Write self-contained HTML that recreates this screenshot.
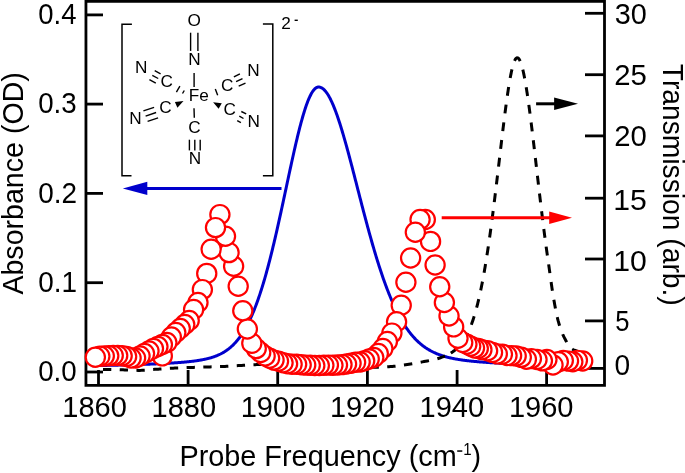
<!DOCTYPE html>
<html><head><meta charset="utf-8"><style>
html,body{margin:0;padding:0;background:#fff;}
svg{display:block;will-change:transform;}
text{font-family:"Liberation Sans",sans-serif;}
</style></head><body>
<svg width="685" height="473" viewBox="0 0 685 473">
<rect width="685" height="473" fill="#fff"/>
<g stroke="#000" stroke-width="2.8" fill="none">
<path d="M85.95,385.3 L85.95,1.45 L604.5,1.45 L604.5,385.3 Z"/>
<line x1="86.0" y1="372.0" x2="103" y2="372.0"/>
<line x1="86.0" y1="282.7" x2="103" y2="282.7"/>
<line x1="86.0" y1="193.4" x2="103" y2="193.4"/>
<line x1="86.0" y1="104.1" x2="103" y2="104.1"/>
<line x1="86.0" y1="14.9" x2="103" y2="14.9"/>
<line x1="585" y1="368.4" x2="604.5" y2="368.4"/>
<line x1="585" y1="320.9" x2="604.5" y2="320.9"/>
<line x1="585" y1="259.0" x2="604.5" y2="259.0"/>
<line x1="585" y1="198.2" x2="604.5" y2="198.2"/>
<line x1="585" y1="135.9" x2="604.5" y2="135.9"/>
<line x1="585" y1="74.7" x2="604.5" y2="74.7"/>
<line x1="585" y1="13.3" x2="604.5" y2="13.3"/>
<line x1="98.5" y1="385.3" x2="98.5" y2="370"/>
<line x1="188.1" y1="385.3" x2="188.1" y2="370"/>
<line x1="277.7" y1="385.3" x2="277.7" y2="370"/>
<line x1="367.4" y1="385.3" x2="367.4" y2="370"/>
<line x1="457.1" y1="385.3" x2="457.1" y2="370"/>
<line x1="546.6" y1="385.3" x2="546.6" y2="370"/>
</g>
<path d="M92.00,365.66 L92.50,365.65 L93.00,365.64 L93.50,365.64 L94.00,365.63 L94.50,365.62 L95.00,365.61 L95.50,365.60 L96.00,365.59 L96.50,365.58 L97.00,365.57 L97.50,365.56 L98.00,365.56 L98.50,365.55 L99.00,365.54 L99.50,365.53 L100.00,365.52 L100.50,365.51 L101.00,365.50 L101.50,365.49 L102.00,365.48 L102.50,365.47 L103.00,365.46 L103.50,365.45 L104.00,365.44 L104.50,365.43 L105.00,365.42 L105.50,365.41 L106.00,365.40 L106.50,365.39 L107.00,365.38 L107.50,365.37 L108.00,365.36 L108.50,365.35 L109.00,365.34 L109.50,365.33 L110.00,365.32 L110.50,365.31 L111.00,365.29 L111.50,365.28 L112.00,365.27 L112.50,365.26 L113.00,365.25 L113.50,365.24 L114.00,365.23 L114.50,365.22 L115.00,365.20 L115.50,365.19 L116.00,365.18 L116.50,365.17 L117.00,365.16 L117.50,365.15 L118.00,365.13 L118.50,365.12 L119.00,365.11 L119.50,365.10 L120.00,365.08 L120.50,365.07 L121.00,365.06 L121.50,365.05 L122.00,365.03 L122.50,365.02 L123.00,365.01 L123.50,364.99 L124.00,364.98 L124.50,364.97 L125.00,364.95 L125.50,364.94 L126.00,364.93 L126.50,364.91 L127.00,364.90 L127.50,364.89 L128.00,364.87 L128.50,364.86 L129.00,364.84 L129.50,364.83 L130.00,364.81 L130.50,364.80 L131.00,364.79 L131.50,364.77 L132.00,364.76 L132.50,364.74 L133.00,364.73 L133.50,364.71 L134.00,364.69 L134.50,364.68 L135.00,364.66 L135.50,364.65 L136.00,364.63 L136.50,364.62 L137.00,364.60 L137.50,364.58 L138.00,364.57 L138.50,364.55 L139.00,364.53 L139.50,364.52 L140.00,364.50 L140.50,364.48 L141.00,364.47 L141.50,364.45 L142.00,364.43 L142.50,364.41 L143.00,364.40 L143.50,364.38 L144.00,364.36 L144.50,364.34 L145.00,364.32 L145.50,364.30 L146.00,364.29 L146.50,364.27 L147.00,364.25 L147.50,364.23 L148.00,364.21 L148.50,364.19 L149.00,364.17 L149.50,364.15 L150.00,364.13 L150.50,364.11 L151.00,364.09 L151.50,364.07 L152.00,364.05 L152.50,364.03 L153.00,364.01 L153.50,363.98 L154.00,363.96 L154.50,363.94 L155.00,363.92 L155.50,363.90 L156.00,363.88 L156.50,363.85 L157.00,363.83 L157.50,363.81 L158.00,363.78 L158.50,363.76 L159.00,363.74 L159.50,363.71 L160.00,363.69 L160.50,363.66 L161.00,363.64 L161.50,363.62 L162.00,363.59 L162.50,363.56 L163.00,363.54 L163.50,363.51 L164.00,363.49 L164.50,363.46 L165.00,363.43 L165.50,363.41 L166.00,363.38 L166.50,363.35 L167.00,363.32 L167.50,363.30 L168.00,363.27 L168.50,363.24 L169.00,363.21 L169.50,363.18 L170.00,363.15 L170.50,363.12 L171.00,363.09 L171.50,363.06 L172.00,363.03 L172.50,363.00 L173.00,362.96 L173.50,362.93 L174.00,362.90 L174.50,362.87 L175.00,362.83 L175.50,362.80 L176.00,362.76 L176.50,362.73 L177.00,362.69 L177.50,362.66 L178.00,362.62 L178.50,362.58 L179.00,362.55 L179.50,362.51 L180.00,362.47 L180.50,362.43 L181.00,362.39 L181.50,362.35 L182.00,362.31 L182.50,362.27 L183.00,362.22 L183.50,362.18 L184.00,362.14 L184.50,362.09 L185.00,362.05 L185.50,362.00 L186.00,361.95 L186.50,361.91 L187.00,361.86 L187.50,361.81 L188.00,361.76 L188.50,361.71 L189.00,361.65 L189.50,361.60 L190.00,361.55 L190.50,361.49 L191.00,361.43 L191.50,361.38 L192.00,361.32 L192.50,361.26 L193.00,361.20 L193.50,361.14 L194.00,361.07 L194.50,361.01 L195.00,360.94 L195.50,360.87 L196.00,360.80 L196.50,360.73 L197.00,360.66 L197.50,360.58 L198.00,360.51 L198.50,360.43 L199.00,360.35 L199.50,360.27 L200.00,360.19 L200.50,360.10 L201.00,360.01 L201.50,359.92 L202.00,359.83 L202.50,359.74 L203.00,359.64 L203.50,359.54 L204.00,359.44 L204.50,359.34 L205.00,359.23 L205.50,359.12 L206.00,359.01 L206.50,358.89 L207.00,358.77 L207.50,358.65 L208.00,358.53 L208.50,358.40 L209.00,358.27 L209.50,358.13 L210.00,357.99 L210.50,357.85 L211.00,357.71 L211.50,357.55 L212.00,357.40 L212.50,357.24 L213.00,357.08 L213.50,356.91 L214.00,356.74 L214.50,356.56 L215.00,356.38 L215.50,356.19 L216.00,356.00 L216.50,355.80 L217.00,355.60 L217.50,355.39 L218.00,355.17 L218.50,354.95 L219.00,354.73 L219.50,354.49 L220.00,354.25 L220.50,354.01 L221.00,353.75 L221.50,353.49 L222.00,353.22 L222.50,352.95 L223.00,352.67 L223.50,352.37 L224.00,352.08 L224.50,351.77 L225.00,351.45 L225.50,351.13 L226.00,350.79 L226.50,350.45 L227.00,350.10 L227.50,349.74 L228.00,349.37 L228.50,348.99 L229.00,348.60 L229.50,348.19 L230.00,347.78 L230.50,347.36 L231.00,346.92 L231.50,346.48 L232.00,346.02 L232.50,345.55 L233.00,345.07 L233.50,344.57 L234.00,344.06 L234.50,343.54 L235.00,343.01 L235.50,342.46 L236.00,341.90 L236.50,341.33 L237.00,340.74 L237.50,340.13 L238.00,339.51 L238.50,338.88 L239.00,338.23 L239.50,337.57 L240.00,336.89 L240.50,336.19 L241.00,335.48 L241.50,334.75 L242.00,334.00 L242.50,333.23 L243.00,332.45 L243.50,331.65 L244.00,330.84 L244.50,330.00 L245.00,329.15 L245.50,328.27 L246.00,327.38 L246.50,326.47 L247.00,325.54 L247.50,324.59 L248.00,323.62 L248.50,322.63 L249.00,321.62 L249.50,320.58 L250.00,319.53 L250.50,318.46 L251.00,317.36 L251.50,316.25 L252.00,315.11 L252.50,313.95 L253.00,312.77 L253.50,311.57 L254.00,310.34 L254.50,309.09 L255.00,307.82 L255.50,306.53 L256.00,305.22 L256.50,303.88 L257.00,302.52 L257.50,301.13 L258.00,299.73 L258.50,298.29 L259.00,296.84 L259.50,295.36 L260.00,293.86 L260.50,292.34 L261.00,290.79 L261.50,289.22 L262.00,287.63 L262.50,286.02 L263.00,284.38 L263.50,282.71 L264.00,281.03 L264.50,279.32 L265.00,277.59 L265.50,275.84 L266.00,274.06 L266.50,272.26 L267.00,270.44 L267.50,268.60 L268.00,266.74 L268.50,264.85 L269.00,262.95 L269.50,261.02 L270.00,259.07 L270.50,257.10 L271.00,255.12 L271.50,253.11 L272.00,251.08 L272.50,249.04 L273.00,246.97 L273.50,244.89 L274.00,242.79 L274.50,240.67 L275.00,238.54 L275.50,236.39 L276.00,234.22 L276.50,232.04 L277.00,229.85 L277.50,227.64 L278.00,225.42 L278.50,223.18 L279.00,220.93 L279.50,218.67 L280.00,216.40 L280.50,214.12 L281.00,211.83 L281.50,209.53 L282.00,207.22 L282.50,204.91 L283.00,202.59 L283.50,200.26 L284.00,197.93 L284.50,195.60 L285.00,193.26 L285.50,190.92 L286.00,188.58 L286.50,186.24 L287.00,183.90 L287.50,181.56 L288.00,179.22 L288.50,176.89 L289.00,174.56 L289.50,172.23 L290.00,169.92 L290.50,167.61 L291.00,165.31 L291.50,163.02 L292.00,160.74 L292.50,158.47 L293.00,156.21 L293.50,153.97 L294.00,151.75 L294.50,149.54 L295.00,147.35 L295.50,145.18 L296.00,143.03 L296.50,140.90 L297.00,138.80 L297.50,136.72 L298.00,134.66 L298.50,132.63 L299.00,130.63 L299.50,128.66 L300.00,126.72 L300.50,124.81 L301.00,122.93 L301.50,121.09 L302.00,119.28 L302.50,117.51 L303.00,115.78 L303.50,114.09 L304.00,112.44 L304.50,110.83 L305.00,109.26 L305.50,107.74 L306.00,106.26 L306.50,104.83 L307.00,103.45 L307.50,102.12 L308.00,100.83 L308.50,99.60 L309.00,98.42 L309.50,97.30 L310.00,96.22 L310.50,95.21 L311.00,94.25 L311.50,93.34 L312.00,92.50 L312.50,91.71 L313.00,90.98 L313.50,90.31 L314.00,89.70 L314.50,89.16 L315.00,88.67 L315.50,88.25 L316.00,87.89 L316.50,87.59 L317.00,87.36 L317.50,87.18 L318.00,87.08 L318.50,87.03 L319.00,87.05 L319.50,87.10 L320.00,87.21 L320.50,87.35 L321.00,87.55 L321.50,87.78 L322.00,88.06 L322.50,88.39 L323.00,88.75 L323.50,89.17 L324.00,89.62 L324.50,90.12 L325.00,90.66 L325.50,91.24 L326.00,91.86 L326.50,92.53 L327.00,93.23 L327.50,93.98 L328.00,94.77 L328.50,95.59 L329.00,96.46 L329.50,97.36 L330.00,98.30 L330.50,99.28 L331.00,100.30 L331.50,101.35 L332.00,102.43 L332.50,103.56 L333.00,104.71 L333.50,105.90 L334.00,107.12 L334.50,108.38 L335.00,109.66 L335.50,110.98 L336.00,112.32 L336.50,113.70 L337.00,115.10 L337.50,116.53 L338.00,117.99 L338.50,119.47 L339.00,120.98 L339.50,122.52 L340.00,124.08 L340.50,125.66 L341.00,127.26 L341.50,128.89 L342.00,130.53 L342.50,132.20 L343.00,133.89 L343.50,135.59 L344.00,137.32 L344.50,139.06 L345.00,140.81 L345.50,142.59 L346.00,144.37 L346.50,146.18 L347.00,147.99 L347.50,149.82 L348.00,151.66 L348.50,153.51 L349.00,155.37 L349.50,157.25 L350.00,159.13 L350.50,161.02 L351.00,162.92 L351.50,164.83 L352.00,166.74 L352.50,168.66 L353.00,170.59 L353.50,172.52 L354.00,174.45 L354.50,176.39 L355.00,178.33 L355.50,180.27 L356.00,182.22 L356.50,184.16 L357.00,186.11 L357.50,188.06 L358.00,190.01 L358.50,191.95 L359.00,193.90 L359.50,195.84 L360.00,197.78 L360.50,199.72 L361.00,201.65 L361.50,203.58 L362.00,205.51 L362.50,207.43 L363.00,209.35 L363.50,211.26 L364.00,213.16 L364.50,215.06 L365.00,216.95 L365.50,218.83 L366.00,220.71 L366.50,222.58 L367.00,224.43 L367.50,226.28 L368.00,228.13 L368.50,229.96 L369.00,231.78 L369.50,233.59 L370.00,235.39 L370.50,237.18 L371.00,238.96 L371.50,240.73 L372.00,242.48 L372.50,244.23 L373.00,245.96 L373.50,247.68 L374.00,249.38 L374.50,251.08 L375.00,252.76 L375.50,254.42 L376.00,256.08 L376.50,257.72 L377.00,259.34 L377.50,260.95 L378.00,262.55 L378.50,264.13 L379.00,265.70 L379.50,267.25 L380.00,268.79 L380.50,270.31 L381.00,271.82 L381.50,273.31 L382.00,274.79 L382.50,276.25 L383.00,277.70 L383.50,279.13 L384.00,280.55 L384.50,281.95 L385.00,283.33 L385.50,284.70 L386.00,286.05 L386.50,287.38 L387.00,288.70 L387.50,290.01 L388.00,291.30 L388.50,292.57 L389.00,293.82 L389.50,295.06 L390.00,296.29 L390.50,297.50 L391.00,298.69 L391.50,299.86 L392.00,301.02 L392.50,302.17 L393.00,303.30 L393.50,304.41 L394.00,305.50 L394.50,306.59 L395.00,307.65 L395.50,308.70 L396.00,309.74 L396.50,310.75 L397.00,311.76 L397.50,312.75 L398.00,313.72 L398.50,314.68 L399.00,315.62 L399.50,316.55 L400.00,317.46 L400.50,318.36 L401.00,319.25 L401.50,320.12 L402.00,320.97 L402.50,321.82 L403.00,322.64 L403.50,323.46 L404.00,324.26 L404.50,325.04 L405.00,325.82 L405.50,326.58 L406.00,327.32 L406.50,328.06 L407.00,328.78 L407.50,329.48 L408.00,330.18 L408.50,330.86 L409.00,331.53 L409.50,332.19 L410.00,332.83 L410.50,333.47 L411.00,334.09 L411.50,334.70 L412.00,335.30 L412.50,335.88 L413.00,336.46 L413.50,337.02 L414.00,337.58 L414.50,338.12 L415.00,338.65 L415.50,339.17 L416.00,339.69 L416.50,340.19 L417.00,340.68 L417.50,341.16 L418.00,341.63 L418.50,342.09 L419.00,342.55 L419.50,342.99 L420.00,343.43 L420.50,343.85 L421.00,344.27 L421.50,344.68 L422.00,345.08 L422.50,345.47 L423.00,345.85 L423.50,346.23 L424.00,346.59 L424.50,346.95 L425.00,347.30 L425.50,347.65 L426.00,347.98 L426.50,348.31 L427.00,348.64 L427.50,348.95 L428.00,349.26 L428.50,349.56 L429.00,349.86 L429.50,350.15 L430.00,350.43 L430.50,350.71 L431.00,350.98 L431.50,351.24 L432.00,351.50 L432.50,351.75 L433.00,352.00 L433.50,352.24 L434.00,352.48 L434.50,352.71 L435.00,352.94 L435.50,353.16 L436.00,353.38 L436.50,353.59 L437.00,353.79 L437.50,354.00 L438.00,354.19 L438.50,354.39 L439.00,354.58 L439.50,354.76 L440.00,354.94 L440.50,355.12 L441.00,355.29 L441.50,355.46 L442.00,355.63 L442.50,355.79 L443.00,355.95 L443.50,356.10 L444.00,356.25 L444.50,356.40 L445.00,356.54 L445.50,356.69 L446.00,356.82 L446.50,356.96 L447.00,357.09 L447.50,357.22 L448.00,357.35 L448.50,357.47 L449.00,357.59 L449.50,357.71 L450.00,357.83 L450.50,357.94 L451.00,358.05 L451.50,358.16 L452.00,358.27 L452.50,358.37 L453.00,358.48 L453.50,358.58 L454.00,358.68 L454.50,358.77 L455.00,358.87 L455.50,358.96 L456.00,359.05 L456.50,359.14 L457.00,359.22 L457.50,359.31 L458.00,359.39 L458.50,359.47 L459.00,359.55 L459.50,359.63 L460.00,359.71 L460.50,359.79 L461.00,359.86 L461.50,359.93 L462.00,360.00 L462.50,360.07 L463.00,360.14 L463.50,360.21 L464.00,360.28 L464.50,360.34 L465.00,360.41 L465.50,360.47 L466.00,360.53 L466.50,360.59 L467.00,360.65 L467.50,360.71 L468.00,360.77 L468.50,360.83 L469.00,360.88 L469.50,360.94 L470.00,360.99 L470.50,361.04 L471.00,361.10 L471.50,361.15 L472.00,361.20 L472.50,361.25 L473.00,361.30 L473.50,361.35 L474.00,361.39 L474.50,361.44 L475.00,361.49 L475.50,361.53 L476.00,361.58 L476.50,361.62 L477.00,361.67 L477.50,361.71 L478.00,361.75 L478.50,361.79 L479.00,361.84 L479.50,361.88 L480.00,361.92 L480.50,361.96 L481.00,362.00 L481.50,362.03 L482.00,362.07 L482.50,362.11 L483.00,362.15 L483.50,362.19 L484.00,362.22 L484.50,362.26 L485.00,362.29 L485.50,362.33 L486.00,362.36 L486.50,362.40 L487.00,362.43 L487.50,362.47 L488.00,362.50 L488.50,362.53 L489.00,362.56 L489.50,362.60 L490.00,362.63 L490.50,362.66 L491.00,362.69 L491.50,362.72 L492.00,362.75 L492.50,362.78 L493.00,362.81 L493.50,362.84 L494.00,362.87 L494.50,362.90 L495.00,362.93 L495.50,362.96 L496.00,362.99 L496.50,363.01 L497.00,363.04 L497.50,363.07 L498.00,363.10 L498.50,363.12 L499.00,363.15 L499.50,363.18 L500.00,363.20 L500.50,363.23 L501.00,363.25 L501.50,363.28 L502.00,363.31 L502.50,363.33 L503.00,363.36 L503.50,363.38 L504.00,363.40 L504.50,363.43 L505.00,363.45 L505.50,363.48 L506.00,363.50 L506.50,363.52 L507.00,363.55 L507.50,363.57 L508.00,363.59 L508.50,363.62 L509.00,363.64 L509.50,363.66 L510.00,363.68 L510.50,363.71 L511.00,363.73 L511.50,363.75 L512.00,363.77 L512.50,363.79 L513.00,363.81 L513.50,363.83 L514.00,363.86 L514.50,363.88 L515.00,363.90 L515.50,363.92 L516.00,363.94 L516.50,363.96 L517.00,363.98 L517.50,364.00 L518.00,364.02 L518.50,364.04 L519.00,364.06 L519.50,364.08 L520.00,364.10 L520.50,364.11 L521.00,364.13 L521.50,364.15 L522.00,364.17 L522.50,364.19 L523.00,364.21 L523.50,364.23 L524.00,364.24 L524.50,364.26 L525.00,364.28 L525.50,364.30 L526.00,364.32 L526.50,364.33 L527.00,364.35 L527.50,364.37 L528.00,364.39 L528.50,364.40 L529.00,364.42 L529.50,364.44 L530.00,364.45 L530.50,364.47 L531.00,364.49 L531.50,364.50 L532.00,364.52 L532.50,364.54 L533.00,364.55 L533.50,364.57 L534.00,364.58 L534.50,364.60 L535.00,364.61 L535.50,364.63 L536.00,364.65 L536.50,364.66 L537.00,364.68 L537.50,364.69 L538.00,364.71 L538.50,364.72 L539.00,364.74 L539.50,364.75 L540.00,364.77 L540.50,364.78 L541.00,364.80 L541.50,364.81 L542.00,364.82 L542.50,364.84 L543.00,364.85 L543.50,364.87 L544.00,364.88 L544.50,364.90 L545.00,364.91 L545.50,364.92 L546.00,364.94 L546.50,364.95 L547.00,364.96 L547.50,364.98 L548.00,364.99 L548.50,365.00 L549.00,365.02 L549.50,365.03 L550.00,365.04 L550.50,365.06 L551.00,365.07 L551.50,365.08 L552.00,365.09 L552.50,365.11 L553.00,365.12 L553.50,365.13 L554.00,365.15 L554.50,365.16 L555.00,365.17 L555.50,365.18 L556.00,365.19 L556.50,365.21 L557.00,365.22 L557.50,365.23 L558.00,365.24 L558.50,365.25 L559.00,365.27 L559.50,365.28 L560.00,365.29 L560.50,365.30 L561.00,365.31 L561.50,365.32 L562.00,365.34 L562.50,365.35 L563.00,365.36 L563.50,365.37 L564.00,365.38 L564.50,365.39 L565.00,365.40 L565.50,365.41 L566.00,365.42 L566.50,365.43 L567.00,365.45 L567.50,365.46 L568.00,365.47 L568.50,365.48 L569.00,365.49 L569.50,365.50 L570.00,365.51 L570.50,365.52 L571.00,365.53 L571.50,365.54 L572.00,365.55 L572.50,365.56 L573.00,365.57 L573.50,365.58 L574.00,365.59 L574.50,365.60 L575.00,365.61 L575.50,365.62 L576.00,365.63 L576.50,365.64 L577.00,365.65 L577.50,365.66 L578.00,365.67 L578.50,365.68 L579.00,365.69 L579.50,365.70 L580.00,365.71 L580.50,365.71 L581.00,365.72 L581.50,365.73 L582.00,365.74 L582.50,365.75 L583.00,365.76 L583.50,365.77 L584.00,365.78 L584.50,365.79 L585.00,365.80 L585.50,365.81" fill="none" stroke="#0000cc" stroke-width="3" stroke-linejoin="round"/>
<path d="M103.00,369.46 L104.66,369.41 L106.32,369.40 L107.98,369.40 L109.64,369.42 L111.30,369.46 M119.72,369.72 L121.38,369.78 L123.04,369.83 L124.70,369.89 L126.36,369.97 L128.02,370.05 M136.44,370.37 L138.10,370.39 L139.76,370.39 L141.42,370.35 L143.08,370.27 L144.74,370.18 M153.16,369.49 L154.82,369.36 L156.48,369.25 L158.14,369.13 L159.80,369.01 L161.46,368.89 M169.88,368.31 L171.54,368.22 L173.20,368.14 L174.86,368.07 L176.52,367.99 L178.18,367.93 M186.60,367.62 L188.26,367.56 L189.92,367.50 L191.58,367.45 L193.24,367.39 L194.90,367.34 M203.32,367.08 L204.98,367.03 L206.64,366.98 L208.30,366.93 L209.96,366.89 L211.62,366.84 M220.04,366.60 L221.70,366.55 L223.36,366.48 L225.02,366.41 L226.68,366.32 L228.34,366.23 M236.76,365.69 L238.42,365.59 L240.08,365.49 L241.74,365.39 L243.40,365.29 L245.06,365.18 M253.48,364.69 L255.14,364.63 L256.80,364.60 L258.46,364.59 L260.12,364.58 L261.78,364.58 M270.20,364.65 L271.86,364.67 L273.52,364.70 L275.18,364.73 L276.84,364.77 L278.50,364.80 M286.92,364.99 L288.58,365.03 L290.24,365.07 L291.90,365.11 L293.56,365.16 L295.22,365.21 M303.64,365.57 L305.30,365.66 L306.96,365.74 L308.62,365.82 L310.28,365.90 L311.94,365.98 M320.36,366.36 L322.02,366.42 L323.68,366.49 L325.34,366.55 L327.00,366.62 L328.66,366.69 M337.08,367.00 L338.74,367.05 L340.40,367.11 L342.06,367.15 L343.72,367.20 L345.38,367.24 M353.80,367.38 L355.46,367.40 L357.12,367.42 L358.78,367.43 L360.44,367.44 L362.10,367.45 M370.52,367.40 L372.18,367.37 L373.84,367.33 L375.50,367.28 L377.16,367.23 L378.82,367.18 M387.24,366.82 L388.90,366.72 L390.56,366.61 L392.22,366.48 L393.88,366.34 L395.54,366.17 M403.96,365.06 L405.62,364.81 L407.28,364.56 L408.94,364.31 L410.60,364.05 L412.26,363.77 M420.68,362.22 L422.34,361.90 L424.00,361.59 L425.66,361.27 L427.32,360.96 L428.98,360.64 M437.40,358.70 L438.92,358.25 L440.44,357.75 L441.96,357.21 L443.48,356.64 L445.00,356.01 M450.73,353.10 L451.42,352.67 L452.10,352.23 L452.77,351.78 L453.43,351.31 L454.08,350.83 L454.72,350.33 L455.35,349.82 L455.97,349.30 L456.57,348.77 L457.17,348.22 L457.75,347.66 M463.41,340.73 L463.85,340.06 L464.29,339.37 L464.71,338.68 L465.13,337.99 L465.53,337.29 L465.93,336.58 L466.31,335.87 L466.69,335.16 L467.06,334.44 L467.43,333.72 L467.78,332.99 M471.28,324.74 L471.57,323.99 L471.84,323.23 L472.12,322.46 L472.39,321.70 L472.65,320.94 L472.91,320.17 L473.17,319.40 L473.42,318.63 L473.67,317.86 L473.91,317.09 L474.15,316.32 M476.62,307.71 L476.83,306.93 L477.03,306.14 L477.23,305.36 L477.43,304.58 L477.63,303.79 L477.82,303.01 L478.02,302.22 L478.21,301.43 L478.40,300.65 L478.58,299.86 L478.77,299.07 M480.70,290.32 L480.87,289.53 L481.03,288.74 L481.19,287.95 L481.35,287.15 L481.51,286.36 L481.67,285.57 L481.83,284.77 L481.99,283.98 L482.14,283.19 L482.29,282.39 L482.45,281.60 M484.07,272.78 L484.21,271.99 L484.35,271.19 L484.48,270.39 L484.62,269.60 L484.76,268.80 L484.90,268.00 L485.03,267.20 L485.17,266.41 L485.30,265.61 L485.43,264.81 L485.56,264.01 M486.98,255.16 L487.11,254.36 L487.23,253.56 L487.35,252.77 L487.48,251.96 L487.60,251.17 L487.72,250.36 L487.84,249.57 L487.96,248.76 L488.08,247.97 L488.20,247.16 L488.32,246.36 M489.60,237.50 L489.71,236.70 L489.83,235.89 L489.94,235.09 L490.05,234.29 L490.16,233.49 L490.27,232.69 L490.38,231.89 L490.49,231.08 L490.60,230.28 L490.71,229.48 L490.82,228.68 M492.01,219.80 L492.11,219.00 L492.22,218.19 L492.32,217.39 L492.43,216.59 L492.53,215.79 L492.63,214.99 L492.74,214.18 L492.84,213.38 L492.94,212.58 L493.05,211.78 L493.15,210.97 M494.27,202.08 L494.37,201.28 L494.47,200.48 L494.57,199.67 L494.67,198.87 L494.77,198.07 L494.87,197.27 L494.96,196.46 L495.06,195.66 L495.16,194.86 L495.26,194.05 L495.36,193.25 M496.43,184.35 L496.53,183.55 L496.63,182.75 L496.72,181.94 L496.82,181.14 L496.92,180.34 L497.01,179.53 L497.11,178.73 L497.20,177.93 L497.30,177.12 L497.39,176.32 L497.49,175.52 M498.54,166.62 L498.64,165.82 L498.73,165.01 L498.83,164.21 L498.92,163.40 L499.02,162.60 L499.11,161.80 L499.21,160.99 L499.30,160.19 L499.40,159.39 L499.49,158.58 L499.58,157.78 M500.63,148.88 L500.73,148.08 L500.82,147.27 L500.92,146.47 L501.01,145.67 L501.11,144.86 L501.20,144.06 L501.30,143.26 L501.39,142.45 L501.49,141.65 L501.59,140.85 L501.68,140.04 M502.75,131.15 L502.85,130.34 L502.95,129.54 L503.04,128.74 L503.14,127.93 L503.24,127.13 L503.34,126.33 L503.44,125.53 L503.54,124.72 L503.63,123.92 L503.73,123.12 L503.83,122.31 M504.96,113.42 L505.06,112.62 L505.16,111.82 L505.27,111.02 L505.37,110.21 L505.48,109.41 L505.58,108.61 L505.69,107.81 L505.79,107.01 L505.90,106.20 L506.01,105.40 L506.12,104.60 M507.35,95.73 L507.47,94.92 L507.58,94.12 L507.70,93.32 L507.82,92.52 L507.94,91.72 L508.06,90.92 L508.18,90.12 L508.30,89.32 L508.43,88.52 L508.55,87.72 L508.68,86.93 M510.18,78.09 L510.32,77.30 L510.47,76.50 L510.62,75.71 L510.78,74.91 L510.94,74.12 L511.10,73.33 L511.26,72.53 L511.43,71.74 L511.60,70.95 L511.78,70.16 L511.96,69.37 M514.56,60.81 L514.90,60.08 L515.29,59.37 L515.74,58.70 L516.30,58.12 L517.03,57.77 L517.81,57.89 L518.47,58.36 L518.99,58.97 L519.43,59.65 L519.81,60.37 L520.16,61.10 M522.81,69.65 L523.00,70.43 L523.18,71.22 L523.36,72.01 L523.53,72.80 L523.70,73.59 L523.87,74.38 L524.03,75.18 L524.19,75.97 L524.34,76.76 L524.50,77.56 L524.65,78.35 M526.19,87.18 L526.32,87.98 L526.45,88.78 L526.58,89.57 L526.70,90.37 L526.83,91.17 L526.95,91.97 L527.08,92.77 L527.20,93.57 L527.32,94.37 L527.44,95.17 L527.56,95.97 M528.82,104.84 L528.93,105.65 L529.04,106.45 L529.15,107.25 L529.26,108.05 L529.36,108.85 L529.47,109.65 L529.58,110.46 L529.68,111.26 L529.79,112.06 L529.89,112.86 L530.00,113.67 M531.13,122.55 L531.23,123.36 L531.33,124.16 L531.43,124.96 L531.53,125.76 L531.63,126.57 L531.73,127.37 L531.83,128.17 L531.93,128.98 L532.03,129.78 L532.12,130.58 L532.22,131.39 M533.29,140.28 L533.39,141.09 L533.48,141.89 L533.58,142.69 L533.67,143.50 L533.77,144.30 L533.86,145.10 L533.96,145.91 L534.05,146.71 L534.15,147.51 L534.24,148.32 L534.33,149.12 M535.37,158.02 L535.46,158.82 L535.56,159.63 L535.65,160.43 L535.74,161.24 L535.84,162.04 L535.93,162.84 L536.02,163.65 L536.12,164.45 L536.21,165.25 L536.30,166.06 L536.40,166.86 M537.43,175.76 L537.52,176.57 L537.61,177.37 L537.70,178.17 L537.80,178.98 L537.89,179.78 L537.98,180.58 L538.08,181.39 L538.17,182.19 L538.26,183.00 L538.36,183.80 L538.45,184.60 M539.49,193.50 L539.59,194.31 L539.68,195.11 L539.78,195.91 L539.87,196.72 L539.97,197.52 L540.06,198.32 L540.16,199.13 L540.25,199.93 L540.35,200.73 L540.44,201.54 L540.54,202.34 M541.61,211.24 L541.70,212.04 L541.80,212.84 L541.90,213.65 L542.00,214.45 L542.10,215.25 L542.20,216.06 L542.29,216.86 L542.39,217.66 L542.49,218.46 L542.59,219.27 L542.69,220.07 M543.81,228.96 L543.91,229.76 L544.01,230.57 L544.12,231.37 L544.22,232.17 L544.32,232.97 L544.43,233.78 L544.53,234.58 L544.64,235.38 L544.74,236.18 L544.85,236.99 L544.95,237.79 M546.14,246.67 L546.25,247.47 L546.36,248.27 L546.47,249.07 L546.59,249.87 L546.70,250.68 L546.81,251.48 L546.92,252.28 L547.03,253.08 L547.15,253.88 L547.26,254.68 L547.38,255.48 M548.65,264.35 L548.77,265.15 L548.88,265.95 L548.99,266.75 L549.10,267.55 L549.21,268.36 L549.32,269.16 L549.43,269.96 L549.55,270.76 L549.66,271.56 L549.77,272.36 L549.88,273.17 M551.11,282.04 L551.23,282.84 L551.34,283.64 L551.45,284.44 L551.57,285.25 L551.69,286.05 L551.80,286.85 L551.92,287.65 L552.04,288.45 L552.16,289.25 L552.28,290.05 L552.41,290.85 M553.86,299.69 L553.99,300.48 L554.13,301.28 L554.27,302.08 L554.41,302.88 L554.55,303.67 L554.69,304.47 L554.83,305.27 L554.98,306.06 L555.12,306.86 L555.27,307.65 L555.42,308.45 M557.26,317.22 L557.45,318.01 L557.64,318.79 L557.84,319.58 L558.05,320.36 L558.25,321.14 L558.47,321.92 L558.69,322.70 L558.91,323.48 L559.14,324.25 L559.37,325.03 L559.61,325.80 M562.66,334.23 L562.98,334.96 L563.32,335.70 L563.67,336.43 L564.03,337.15 L564.41,337.87 L564.79,338.58 L565.17,339.29 L565.56,340.00 L565.95,340.71 L566.33,341.43 L566.72,342.14 M572.21,349.09 L572.90,349.52 L573.64,349.84 L574.41,350.08 L575.18,350.34 L575.92,350.66 L576.66,351.00 L577.40,351.32 L578.15,351.64 L578.89,351.96 L579.62,352.30 L580.35,352.65" fill="none" stroke="#000" stroke-width="3"/>
<g fill="#fff" stroke="#ff0000" stroke-width="2.2">
<circle cx="162.30" cy="355.90" r="9.60"/>
<circle cx="582.70" cy="361.04" r="9.60"/>
<circle cx="577.40" cy="360.34" r="9.60"/>
<circle cx="572.80" cy="361.74" r="9.60"/>
<circle cx="568.50" cy="361.09" r="9.60"/>
<circle cx="563.30" cy="360.51" r="9.60"/>
<circle cx="558.30" cy="361.81" r="9.60"/>
<circle cx="553.00" cy="365.00" r="9.60"/>
<circle cx="546.90" cy="359.55" r="9.60"/>
<circle cx="542.40" cy="360.81" r="9.60"/>
<circle cx="537.00" cy="359.50" r="9.60"/>
<circle cx="531.40" cy="358.60" r="9.60"/>
<circle cx="526.40" cy="359.20" r="9.60"/>
<circle cx="521.30" cy="357.31" r="9.60"/>
<circle cx="516.20" cy="355.96" r="9.60"/>
<circle cx="511.60" cy="355.61" r="9.60"/>
<circle cx="507.00" cy="355.45" r="9.60"/>
<circle cx="502.40" cy="354.30" r="9.60"/>
<circle cx="497.30" cy="353.89" r="9.60"/>
<circle cx="492.50" cy="352.38" r="9.60"/>
<circle cx="487.60" cy="350.76" r="9.60"/>
<circle cx="481.90" cy="349.64" r="9.60"/>
<circle cx="478.30" cy="348.50" r="9.60"/>
<circle cx="474.50" cy="348.03" r="9.60"/>
<circle cx="470.70" cy="346.30" r="9.60"/>
<circle cx="466.90" cy="344.26" r="9.60"/>
<circle cx="462.70" cy="342.48" r="9.60"/>
<circle cx="458.00" cy="338.30" r="9.60"/>
<circle cx="453.66" cy="326.90" r="9.60"/>
<circle cx="449.02" cy="316.00" r="9.60"/>
<circle cx="444.38" cy="302.50" r="9.60"/>
<circle cx="439.74" cy="286.80" r="9.60"/>
<circle cx="435.10" cy="265.00" r="9.60"/>
<circle cx="430.55" cy="241.40" r="9.60"/>
<circle cx="425.30" cy="219.50" r="9.60"/>
<circle cx="420.05" cy="219.50" r="9.60"/>
<circle cx="415.33" cy="232.30" r="9.60"/>
<circle cx="410.62" cy="258.00" r="9.60"/>
<circle cx="405.90" cy="282.30" r="9.60"/>
<circle cx="401.23" cy="305.20" r="9.60"/>
<circle cx="396.57" cy="321.70" r="9.60"/>
<circle cx="391.90" cy="333.10" r="9.60"/>
<circle cx="387.36" cy="341.50" r="9.60"/>
<circle cx="382.83" cy="348.50" r="9.60"/>
<circle cx="378.29" cy="353.50" r="9.60"/>
<circle cx="373.76" cy="357.50" r="9.60"/>
<circle cx="369.22" cy="359.00" r="9.60"/>
<circle cx="364.68" cy="360.80" r="9.60"/>
<circle cx="360.15" cy="362.00" r="9.60"/>
<circle cx="355.61" cy="362.20" r="9.60"/>
<circle cx="351.08" cy="363.20" r="9.60"/>
<circle cx="346.54" cy="364.00" r="9.60"/>
<circle cx="342.00" cy="364.60" r="9.60"/>
<circle cx="337.47" cy="365.00" r="9.60"/>
<circle cx="332.93" cy="365.30" r="9.60"/>
<circle cx="328.40" cy="365.10" r="9.60"/>
<circle cx="323.86" cy="365.30" r="9.60"/>
<circle cx="319.32" cy="365.50" r="9.60"/>
<circle cx="314.79" cy="365.50" r="9.60"/>
<circle cx="310.25" cy="365.30" r="9.60"/>
<circle cx="305.72" cy="365.10" r="9.60"/>
<circle cx="301.18" cy="364.80" r="9.60"/>
<circle cx="296.64" cy="364.30" r="9.60"/>
<circle cx="292.11" cy="364.30" r="9.60"/>
<circle cx="287.57" cy="363.70" r="9.60"/>
<circle cx="283.04" cy="362.70" r="9.60"/>
<circle cx="278.50" cy="361.20" r="9.60"/>
<circle cx="274.05" cy="360.10" r="9.60"/>
<circle cx="269.60" cy="358.30" r="9.60"/>
<circle cx="265.15" cy="356.00" r="9.60"/>
<circle cx="260.70" cy="352.50" r="9.60"/>
<circle cx="256.25" cy="348.60" r="9.60"/>
<circle cx="251.80" cy="343.30" r="9.60"/>
<circle cx="247.35" cy="329.00" r="9.60"/>
<circle cx="242.78" cy="310.70" r="9.60"/>
<circle cx="238.20" cy="286.20" r="9.60"/>
<circle cx="233.62" cy="266.30" r="9.60"/>
<circle cx="229.05" cy="252.60" r="9.60"/>
<circle cx="225.50" cy="236.20" r="9.60"/>
<circle cx="219.90" cy="214.60" r="9.60"/>
<circle cx="215.51" cy="227.60" r="9.60"/>
<circle cx="211.13" cy="249.20" r="9.60"/>
<circle cx="206.74" cy="273.40" r="9.60"/>
<circle cx="202.36" cy="289.60" r="9.60"/>
<circle cx="197.97" cy="302.50" r="9.60"/>
<circle cx="193.59" cy="309.50" r="9.60"/>
<circle cx="189.20" cy="320.50" r="9.60"/>
<circle cx="184.73" cy="324.50" r="9.60"/>
<circle cx="180.26" cy="328.50" r="9.60"/>
<circle cx="175.79" cy="332.50" r="9.60"/>
<circle cx="171.32" cy="337.00" r="9.60"/>
<circle cx="166.85" cy="342.50" r="9.60"/>
<circle cx="162.39" cy="344.50" r="9.60"/>
<circle cx="157.92" cy="346.50" r="9.60"/>
<circle cx="153.45" cy="348.50" r="9.60"/>
<circle cx="148.98" cy="351.00" r="9.60"/>
<circle cx="144.51" cy="353.50" r="9.60"/>
<circle cx="140.04" cy="356.00" r="9.60"/>
<circle cx="135.57" cy="358.00" r="9.60"/>
<circle cx="131.10" cy="358.00" r="9.60"/>
<circle cx="126.63" cy="356.50" r="9.60"/>
<circle cx="122.16" cy="355.70" r="9.60"/>
<circle cx="117.70" cy="355.50" r="9.60"/>
<circle cx="113.23" cy="355.50" r="9.60"/>
<circle cx="108.76" cy="355.80" r="9.60"/>
<circle cx="104.29" cy="356.00" r="9.60"/>
<circle cx="99.82" cy="356.30" r="9.60"/>
<circle cx="95.35" cy="357.20" r="9.60"/>
</g>
<line x1="281.5" y1="188.5" x2="146" y2="188.5" stroke="#0000cc" stroke-width="3.1"/>
<path d="M122.8,188.4 L147.3,181.7 L147.3,194.9 Z" fill="#0000cc"/>
<line x1="441.7" y1="217.8" x2="551" y2="217.8" stroke="#ff0000" stroke-width="3"/>
<path d="M572,217.8 L549.2,211.6 L549.2,224 Z" fill="#ff0000"/>
<line x1="536.1" y1="103.8" x2="556" y2="103.8" stroke="#000" stroke-width="3"/>
<path d="M578,103.8 L554.1,97.6 L554.1,110 Z" fill="#000"/>
<g fill="#000">
<text transform="translate(38.19,381.20) scale(0.9193,1)" font-size="30.14">0.0</text>
<text transform="translate(38.18,291.90) scale(0.9264,1)" font-size="30.14">0.1</text>
<text transform="translate(38.18,202.60) scale(0.9264,1)" font-size="30.14">0.2</text>
<text transform="translate(38.19,113.30) scale(0.9193,1)" font-size="30.14">0.3</text>
<text transform="translate(38.20,24.10) scale(0.9124,1)" font-size="30.14">0.4</text>
<text transform="translate(614.38,374.71) scale(0.9694,1)" font-size="29.01">0</text>
<text transform="translate(615.28,331.01) scale(0.8848,1)" font-size="28.86">5</text>
<text transform="translate(613.28,270.81) scale(1.0309,1)" font-size="29.30">10</text>
<text transform="translate(613.28,209.80) scale(1.0164,1)" font-size="29.71">15</text>
<text transform="translate(614.23,146.31) scale(1.0006,1)" font-size="29.30">20</text>
<text transform="translate(614.23,85.41) scale(1.0006,1)" font-size="29.30">25</text>
<text transform="translate(614.75,23.81) scale(0.9938,1)" font-size="29.01">30</text>
<text transform="translate(62.28,417.40) scale(0.9774,1)" font-size="29.72">1860</text>
<text transform="translate(151.48,417.40) scale(0.9774,1)" font-size="29.72">1880</text>
<text transform="translate(240.68,417.40) scale(0.9774,1)" font-size="29.72">1900</text>
<text transform="translate(329.88,417.40) scale(0.9774,1)" font-size="29.72">1920</text>
<text transform="translate(419.48,417.40) scale(0.9774,1)" font-size="29.72">1940</text>
<text transform="translate(508.88,417.40) scale(0.9774,1)" font-size="29.72">1960</text>
<text transform="translate(179.39,465.6) scale(0.9809,1)" font-size="29.42">Probe Frequency (cm</text>
<text transform="translate(463.29,455.40) scale(0.9569,1)" font-size="15.80">1</text>
<rect x="457.2" y="450.3" width="5.1" height="1.5"/>
<text transform="translate(471.51,465.6) scale(0.9809,1)" font-size="29.42">)</text>
<text transform="translate(22.6,294.60) rotate(-90) scale(0.9669,1)" font-size="29.57">Absorbance (OD)</text>
<text transform="translate(662.9,63.74) rotate(90) scale(0.9692,1)" font-size="29.13">Transmission (arb.)</text>
</g>
<g fill="#000">
<text x="187.54" y="25.88" font-size="17.20">O</text>
<text x="188.16" y="64.73" font-size="17.20">N</text>
<text x="188.68" y="100.85" font-size="17.20">Fe</text>
<text x="135.06" y="72.58" font-size="17.20">N</text>
<text x="160.52" y="87.23" font-size="17.20">C</text>
<text x="220.92" y="90.58" font-size="17.20">C</text>
<text x="247.16" y="75.83" font-size="17.20">N</text>
<text x="159.22" y="112.58" font-size="17.20">C</text>
<text x="129.31" y="123.68" font-size="17.20">N</text>
<text x="223.52" y="114.68" font-size="17.20">C</text>
<text x="247.51" y="127.03" font-size="17.20">N</text>
<text x="188.32" y="132.58" font-size="17.20">C</text>
<text x="188.81" y="164.08" font-size="17.20">N</text>
<text x="281.28" y="29.27" font-size="17.20">2</text>
</g>
<g stroke="#000" stroke-width="1.4" fill="none">
<line x1="190.6" y1="32.7" x2="190.6" y2="50.9"/>
<line x1="197.9" y1="32.7" x2="197.9" y2="50.9"/>
<line x1="194.1" y1="72.9" x2="194.1" y2="86.9"/>
<line x1="194.0" y1="108.3" x2="194.3" y2="117.7"/>
<line x1="189.4" y1="139.7" x2="189.4" y2="150.4"/>
<line x1="194.8" y1="139.7" x2="194.8" y2="150.4"/>
<line x1="200.2" y1="139.7" x2="200.2" y2="150.4"/>
<line x1="154.7" y1="70.6" x2="160.6" y2="73.8"/>
<line x1="152.3" y1="75.3" x2="158.2" y2="78.5"/>
<line x1="149.4" y1="79.7" x2="155.8" y2="83.2"/>
<line x1="233.9" y1="76.9" x2="239.9" y2="73.8"/>
<line x1="236.1" y1="81.7" x2="242.5" y2="78.6"/>
<line x1="238.7" y1="86.1" x2="245.5" y2="83.2"/>
<line x1="241.3" y1="111.5" x2="246.2" y2="113.8"/>
<line x1="239.3" y1="116.1" x2="243.5" y2="118.5"/>
<line x1="237.2" y1="120.6" x2="240.9" y2="122.6"/>
<line x1="143.4" y1="110.9" x2="154.1" y2="107.3"/>
<line x1="145.6" y1="116.2" x2="156.1" y2="112.5"/>
<line x1="147.6" y1="121.4" x2="158.1" y2="117.9"/>
<line x1="176.4" y1="92.2" x2="179.9" y2="86.1"/>
<line x1="182.5" y1="93.5" x2="184.3" y2="90.5"/>
<line x1="215.3" y1="89.0" x2="217.7" y2="95.3"/>
<line x1="294.6" y1="20.3" x2="297.8" y2="20.3"/>
</g>
<g fill="#000"><path d="M174.9,102 L183.5,101.1 L177.4,107.7 Z M213.1,102.3 L221.8,103.3 L218.6,108.8 Z"/></g>
<path d="M131.9,24.2 H122 V175.7 H131.5 M262.9,24.0 H272.8 V175.7 H262.9" fill="none" stroke="#000" stroke-width="1.5"/>
</svg>
</body></html>
